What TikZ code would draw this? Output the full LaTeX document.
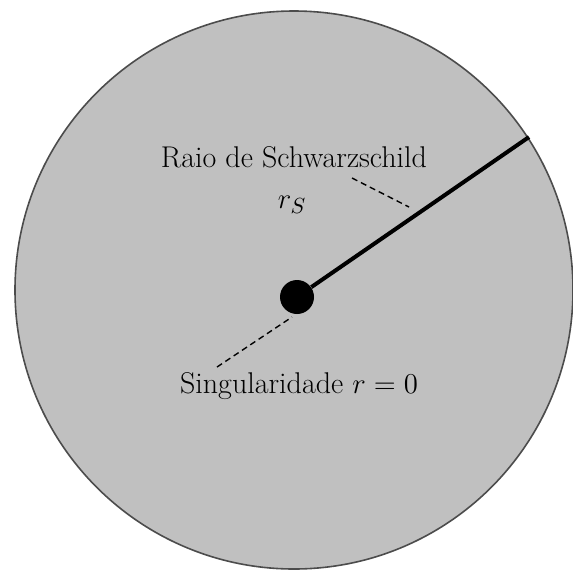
\documentclass[tikz,border=0pt]{standalone}
\usepackage{fontspec}
\usepackage{tikz}

\definecolor{bhgray}{RGB}{192,192,192}

\tikzset{
  label text/.style={font=\fontsize{15}{18}\selectfont, inner sep=0pt},
  pointer/.style={dashed, dash pattern=on 3pt off 2pt, line width=0.7pt}
}

\begin{document}
\begin{tikzpicture}[x=0.5pt, y=-0.5pt]
    \useasboundingbox (0,0) rectangle (573,569);

    % Define nodes
    \node[circle, fill=bhgray, draw=black!70, line width=0.8pt, minimum size=279pt, inner sep=0pt] (bh) at (294,290) {};
    \node[circle, fill=black, minimum size=17pt, inner sep=0pt] (sing) at (297,297) {};
    \coordinate (rim) at (529,137);

    % Draw the radius
    \draw[line width=2pt] (sing) -- (rim);

    % Add labels
    \node[label text] (raio) at (294,157) {Raio de Schwarzschild};
    \node[label text] (rs) at (292,205) {$r_S$};
    \node[label text] (singlabel) at (299,386) {Singularidade $r=0$};

    % Draw dashed pointers
    \coordinate (p1) at (352,178);
    \coordinate (p2) at (409,207);
    \coordinate (p3) at (217,367);
    \coordinate (p4) at (292,317);
    \draw[pointer] (p1) -- (p2);
    \draw[pointer] (p3) -- (p4);
\end{tikzpicture}
\end{document}
